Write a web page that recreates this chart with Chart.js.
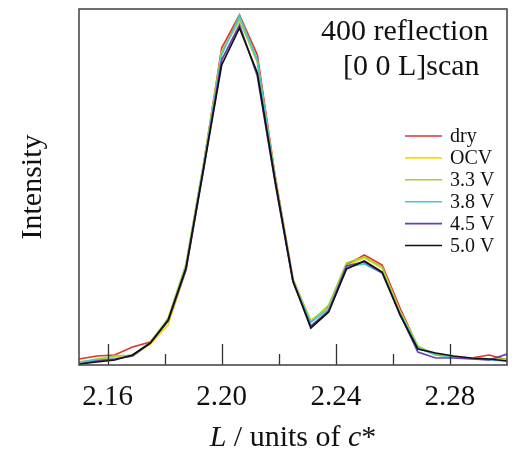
<!DOCTYPE html>
<html>
<head>
<meta charset="utf-8">
<script src="https://cdn.jsdelivr.net/npm/chart.js@4/dist/chart.umd.min.js"></script>
<style>
  html, body { margin: 0; padding: 0; background: #fff; }
  #wrap { width: 513px; height: 453px; }
</style>
</head>
<body>
<div id="wrap"><canvas id="c" width="513" height="453"></canvas></div>
<script>
// L positions (units of c*)
const L = [2.15, 2.15625, 2.1625, 2.16875, 2.175, 2.18125, 2.1875, 2.19375, 2.2, 2.20625,
           2.2125, 2.21875, 2.225, 2.23125, 2.2375, 2.24375, 2.25, 2.25625, 2.2625, 2.26875,
           2.275, 2.28125, 2.2875, 2.29375, 2.3];
const seriesLabels = ["dry", "OCV", "3.3 V", "3.8 V", "4.5 V", "5.0 V"];
const dry   = [6, 9, 10, 18, 23, 45, 99, 202, 317, 350, 310, 189, 86, 43, 58, 100, 110, 100, 57, 18, 11, 8, 7, 10, 5];
const ocv   = [3, 5, 8, 9, 21, 40, 95, 200, 313, 345, 303, 187, 85, 45, 57, 99, 107, 97, 54, 18, 10, 8, 7, 6, 5];
const v33   = [3, 6, 9, 10, 22, 47, 101, 203, 313, 345, 303, 186, 84, 43, 60, 102, 108, 98, 53, 19, 10, 8, 7, 6, 6];
const v38   = [3, 5, 6, 9, 22, 45, 97, 200, 310, 349, 305, 185, 84, 43, 56, 98, 101, 92, 52, 17, 10, 8, 6.5, 5, 4];
const v45   = [1, 4, 6, 9, 22, 44, 95, 197, 305, 340, 289, 182, 83, 39, 54, 99, 103, 92, 51, 13, 7, 7, 6, 5, 11];
const v50   = [1, 3, 5, 10, 22, 45, 97, 198, 300, 337, 292, 184, 84, 37, 53, 96, 104, 93, 50, 16, 12, 9, 7, 6, 4];
const majorTicks = [2.16, 2.20, 2.24, 2.28];
const minorTicks = [2.18, 2.22, 2.26];
const titleLines = ["400 reflection", "[0 0 L]scan"];
// x-axis title pieces: [text, italic]
const xTitleParts = [["L", true], [" / units of ", false], ["c", true], ["*", false]];
const yTitle = "Intensity";

const colors = ["#e8312a", "#f2e000", "#9fd23a", "#45c8cf", "#6a3db8", "#111111"];
const values = [dry, ocv, v33, v38, v45, v50];

const SERIF = "'Liberation Serif', 'Times New Roman', serif";

const datasets = values.map((arr, k) => ({
  label: seriesLabels[k],
  data: arr.map((v, i) => ({ x: L[i], y: v })),
  borderColor: colors[k],
  backgroundColor: colors[k],
  borderWidth: 1.7,
  pointRadius: 0,
  tension: 0,
  fill: false,
  order: k === 5 ? 0 : 6 - k
}));

const decor = {
  id: 'decor',
  afterDatasetsDraw(chart) {
    const ctx = chart.ctx;
    const a = chart.chartArea;
    const xs = chart.scales.x;
    ctx.save();
    // inner ticks
    ctx.strokeStyle = '#333';
    ctx.lineWidth = 1.3;
    majorTicks.forEach(t => {
      const px = Math.round(xs.getPixelForValue(t)) + 0.5;
      ctx.beginPath(); ctx.moveTo(px, a.bottom); ctx.lineTo(px, a.bottom - 21); ctx.stroke();
    });
    minorTicks.forEach(t => {
      const px = Math.round(xs.getPixelForValue(t)) + 0.5;
      ctx.beginPath(); ctx.moveTo(px, a.bottom); ctx.lineTo(px, a.bottom - 11); ctx.stroke();
    });
    // frame
    ctx.strokeStyle = '#4a4a4a';
    ctx.lineWidth = 1.6;
    ctx.strokeRect(a.left, a.top, a.right - a.left, a.bottom - a.top);
    // annotation text
    ctx.fillStyle = '#111';
    ctx.font = '30px ' + SERIF;
    ctx.textBaseline = 'alphabetic';
    ctx.textAlign = 'left';
    ctx.fillText(titleLines[0], 321, 40);
    ctx.fillText(titleLines[1], 343, 75);
    // legend
    ctx.textBaseline = 'middle';
    ctx.font = '20px ' + SERIF;
    chart.data.datasets.forEach((ds, k) => {
      const y = 136 + k * 21.9;
      ctx.strokeStyle = ds.borderColor;
      ctx.lineWidth = 1.6;
      ctx.beginPath(); ctx.moveTo(405, y); ctx.lineTo(442, y); ctx.stroke();
      ctx.fillStyle = '#111';
      ctx.fillText(ds.label, 450, y + 1);
    });
    // x-axis title with italic parts
    ctx.textBaseline = 'alphabetic';
    const fonts = xTitleParts.map(p => (p[1] ? 'italic ' : '') + '30px ' + SERIF);
    let total = 0;
    const widths = xTitleParts.map((p, i) => { ctx.font = fonts[i]; const w = ctx.measureText(p[0]).width; total += w; return w; });
    let x = (a.left + a.right) / 2 - total / 2;
    xTitleParts.forEach((p, i) => {
      ctx.font = fonts[i];
      ctx.fillText(p[0], x, 446);
      x += widths[i];
    });
    ctx.restore();
  }
};

new Chart(document.getElementById('c'), {
  type: 'line',
  data: { datasets },
  options: {
    responsive: false,
    animation: false,
    layout: { padding: { left: 0, right: 6, top: 9, bottom: 0 } },
    plugins: { legend: { display: false }, tooltip: { enabled: false }, title: { display: false } },
    scales: {
      x: {
        type: 'linear',
        min: 2.15,
        max: 2.30,
        border: { display: false },
        grid: { display: false, drawTicks: false },
        afterBuildTicks: (s) => { s.ticks = majorTicks.map(v => ({ value: v })); },
        ticks: {
          padding: 15,
          color: '#111',
          font: { family: SERIF, size: 29 },
          maxRotation: 0,
          callback: (v) => v.toFixed(2)
        },
        title: { display: false },
        afterFit: (s) => { s.height = 88; }
      },
      y: {
        type: 'linear',
        min: 0,
        max: 356,
        border: { display: false },
        grid: { display: false, drawTicks: false },
        ticks: { display: false },
        title: {
          display: true,
          text: yTitle,
          color: '#111',
          font: { family: SERIF, size: 30 },
          padding: { top: 15, bottom: 0 }
        },
        afterFit: (s) => { s.width = 79; }
      }
    }
  },
  plugins: [decor]
});
</script>
</body>
</html>
